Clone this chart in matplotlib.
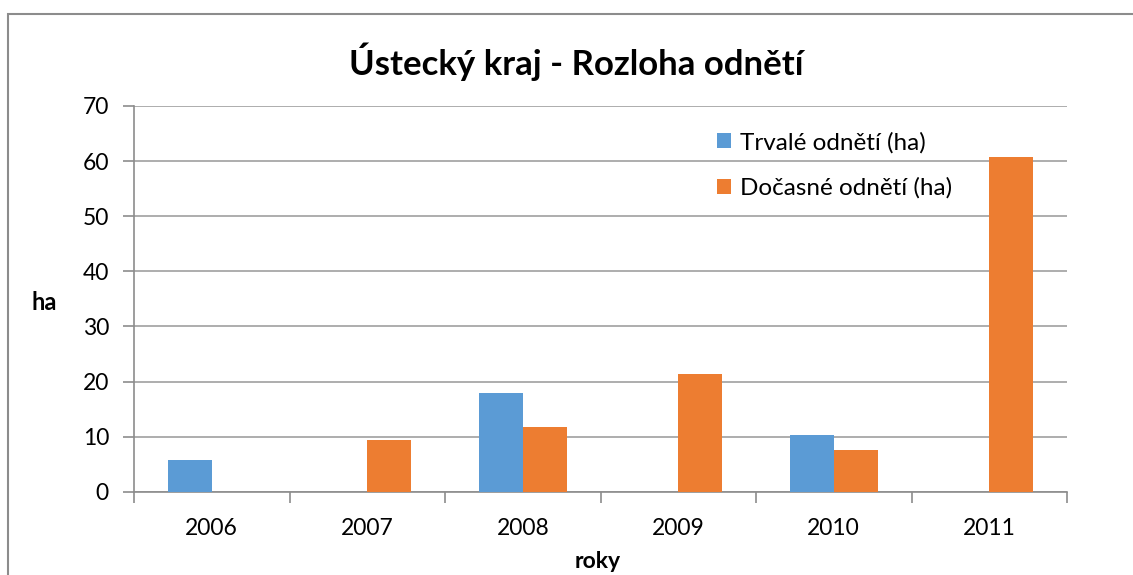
import numpy as np
import matplotlib.pyplot as plt
from matplotlib.patches import Rectangle

# data
years = ['2006', '2007', '2008', '2009', '2010', '2011']
trvale = [5.8, 0, 18.0, 0, 10.3, 0]
docasne = [0, 9.4, 11.8, 21.4, 7.6, 60.8]
y_ticks = [0, 10, 20, 30, 40, 50, 60, 70]

plt.rcParams['font.family'] = ['Lato', 'DejaVu Sans']

fig = plt.figure(figsize=(11.33, 5.75), dpi=100)
W, H = 1133, 575

# chart frame (cropped: only left and top edges show)
fig.patches.append(Rectangle((8 / W, -0.1), 1.2, (H - 14) / H + 0.1, transform=fig.transFigure,
                             fill=False, edgecolor='#8c8c8c', linewidth=1.5))

ax = fig.add_axes([134 / W, (H - 491.7) / H, (1067 - 134) / W, (491.7 - 106) / H])

x = np.arange(len(years))
bw = 0.283
ax.bar(x - bw, trvale, width=bw, align='edge', color='#5B9BD5', label='Trvalé odnětí (ha)', zorder=3)
ax.bar(x, docasne, width=bw, align='edge', color='#ED7D31', label='Dočasné odnětí (ha)', zorder=3)

ax.set_xlim(-0.5, len(years) - 0.5)
ax.set_ylim(0, 70)
ax.set_yticks(y_ticks)
ax.yaxis.grid(True, color='#a0a0a0', linewidth=1.2, zorder=0)

ax.set_xticks(x)
ax.set_xticklabels(years)
ax.set_xticks(np.arange(len(years) + 1) - 0.5, minor=True)
ax.tick_params(axis='x', which='major', length=0, pad=19, labelsize=16.5)
ax.tick_params(axis='x', which='minor', length=8, color='#8c8c8c', width=1.2)
ax.tick_params(axis='y', length=8, color='#8c8c8c', width=1.2, pad=10, labelsize=16.5)

for s in ['top', 'right']:
    ax.spines[s].set_visible(False)
for s in ['left', 'bottom']:
    ax.spines[s].set_color('#8c8c8c')
    ax.spines[s].set_linewidth(1.2)

fig.text(576 / W, 1 - 62 / H, 'Ústecký kraj - Rozloha odnětí', ha='center', va='center',
         fontsize=25, fontweight='bold')
fig.text(44 / W, 1 - 302 / H, 'ha', ha='center', va='center', fontsize=17, fontweight='bold')
fig.text(598 / W, 1 - 562 / H, 'roky', ha='center', va='center', fontsize=16.5, fontweight='bold')

ax.legend(loc='upper left', bbox_to_anchor=(0.601, 0.99), frameon=False, fontsize=17.5,
          handlelength=0.6, handleheight=0.6, handletextpad=0.35, labelspacing=1.0)

fig.savefig('out.png', dpi=100)
